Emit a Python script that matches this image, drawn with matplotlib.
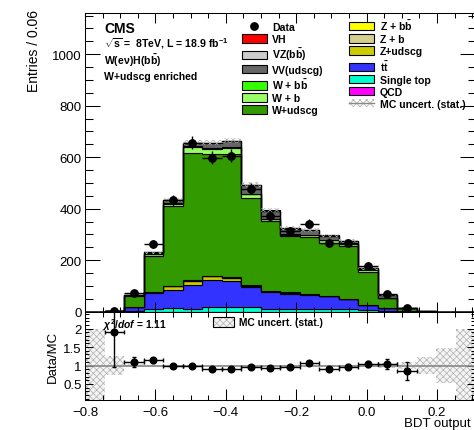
import matplotlib

matplotlib.use("Agg")
import matplotlib.pyplot as plt
import numpy as np
from matplotlib.lines import Line2D
from matplotlib.patches import Patch
from matplotlib.ticker import FormatStrFormatter, MultipleLocator

plt.rcParams["font.family"] = ["Liberation Sans", "DejaVu Sans"]
plt.rcParams["mathtext.fontset"] = "custom"
plt.rcParams["mathtext.rm"] = "Liberation Sans:bold"
plt.rcParams["mathtext.it"] = "Liberation Sans:italic:bold"
plt.rcParams["mathtext.bf"] = "Liberation Sans:bold"
plt.rcParams["hatch.linewidth"] = 0.5

# ---- binning (BDT output, 20 bins) ----
X_LO, X_HI, N_BINS = -0.8, 0.308, 20
edges = np.linspace(X_LO, X_HI, N_BINS + 1)
centers = 0.5 * (edges[:-1] + edges[1:])
half_w = 0.5 * (edges[1] - edges[0])

# ---- observed data ----
data = np.array([0, 4, 73, 262, 432, 656, 598, 606, 478, 370,
                 312, 342, 268, 266, 178, 67, 13, 0, 0, 0], dtype=float)

# ---- MC backgrounds / signal, stacked bottom -> top ----
qcd = np.array([0, 0, 0, 0, 0, 0, 0, 0, 0, 0, 0, 0, 0, 0, 0, 0, 0, 0, 0, 0], dtype=float)
single_top = np.array([0, 0.3, 1, 10, 13, 11, 19, 19, 19, 10, 10, 10, 10, 9, 6, 3, 1, 0, 0, 0])
ttbar = np.array([0, 0.5, 17, 63, 72, 93, 105, 99, 78, 65, 58, 55, 50, 40, 20, 10, 2, 0.5, 0.2, 0])
z_udscg = np.array([0, 0, 1, 2, 14, 15, 13, 12, 3, 4, 6, 2, 2, 1, 1, 0.5, 0, 0, 0, 0])
z_b = np.array([0, 0, 0.5, 1, 1.5, 2, 2, 2, 1.5, 1, 1, 1, 0.5, 0.5, 0.3, 0.1, 0, 0, 0, 0])
z_bb = np.array([0, 0, 0.2, 0.5, 0.8, 1, 1, 1, 0.8, 0.5, 0.5, 0.4, 0.3, 0.2, 0.1, 0, 0, 0, 0, 0])
w_udscg = np.array([0.2, 1.1, 41, 141, 309, 496, 471, 480, 338, 271,
                    218, 222, 205, 204, 128, 39, 10, 0.8, 0.3, 0.1])
w_b = np.array([0, 0, 3, 5, 9, 23, 21, 22, 15, 7, 5, 6, 10, 9, 8, 2, 0.5, 0, 0, 0])
w_bb = np.array([0, 0, 0.5, 1, 2, 3, 3, 3, 2, 2, 1.5, 1.5, 1, 1, 1, 0.3, 0, 0, 0, 0])
vv_udscg = np.array([0, 0.2, 2, 6, 11, 10, 19, 23, 34, 31, 23, 18, 16, 8, 4, 9, 1.5, 0, 0, 0])
vz_bb = np.array([0, 0, 0.2, 0.5, 0.8, 1.5, 1.5, 1.5, 1.5, 1.5, 1, 1, 1, 0.8, 0.6, 0.3, 0.1, 0, 0, 0])
vh = np.array([0, 0, 0.1, 0.2, 0.4, 0.6, 0.7, 0.8, 0.8, 0.7, 0.6, 0.5, 0.5, 0.4, 0.4, 0.2, 0.1, 0, 0, 0])

# relative MC statistical uncertainty per bin
mc_stat_rel = np.array([1.0, 0.27, 0.04, 0.025, 0.018, 0.015, 0.015, 0.015, 0.018, 0.02,
                        0.022, 0.022, 0.024, 0.026, 0.035, 0.07, 0.1, 0.23, 0.48, 1.0])

C_VH, C_VZ, C_VV = "#ff0000", "#cccccc", "#666666"
C_WBB, C_WB, C_WUDSCG = "#33ff00", "#99ff66", "#339900"
C_ZBB, C_ZB, C_ZUDSCG = "#ffff00", "#d6ce8c", "#cccc00"
C_TT, C_STOP, C_QCD = "#3333ff", "#00ffcc", "#ff00ff"
HATCH_C = "#b0b0b0"

STACK = [
    ("QCD", C_QCD, qcd),
    ("Single top", C_STOP, single_top),
    (r"t$\bar{\rm t}$", C_TT, ttbar),
    ("Z+udscg", C_ZUDSCG, z_udscg),
    ("Z + b", C_ZB, z_b),
    (r"Z + b$\bar{\rm b}$", C_ZBB, z_bb),
    ("W+udscg", C_WUDSCG, w_udscg),
    ("W + b", C_WB, w_b),
    (r"W + b$\bar{\rm b}$", C_WBB, w_bb),
    ("VV(udscg)", C_VV, vv_udscg),
    (r"VZ(b$\bar{\rm b}$)", C_VZ, vz_bb),
    ("VH", C_VH, vh),
]

W_PX, H_PX = 474, 431
fig = plt.figure(figsize=(W_PX / 100, H_PX / 100), dpi=100)
ax = fig.add_axes([85 / W_PX, 1 - 312.7 / H_PX, 390 / W_PX, 298.7 / H_PX])
rax = fig.add_axes([85 / W_PX, 1 - 401 / H_PX, 390 / W_PX, 88.3 / H_PX], sharex=ax)

# ---- main panel ----
bottom = np.zeros(N_BINS)
handles = {}
for name, color, vals in STACK:
    top = bottom + vals
    ax.stairs(top, edges, baseline=bottom, fill=True, facecolor=color,
              edgecolor="black", linewidth=0.8)
    handles[name] = Patch(facecolor=color, edgecolor="black", linewidth=0.8)
    bottom = top
mc_total = bottom

ax.stairs(mc_total * (1 + mc_stat_rel), edges, baseline=mc_total * (1 - mc_stat_rel),
          fill=True, facecolor="none", edgecolor=HATCH_C, hatch="xxxxx", linewidth=0)

has = data > 0
ax.errorbar(centers[has], data[has], xerr=half_w, yerr=np.sqrt(data[has]), fmt="o",
            color="black", ms=5.3, elinewidth=1.0, capsize=0, zorder=5)

ax.set_xlim(X_LO, X_HI)
ax.set_ylim(0, 1160)
ax.yaxis.set_major_locator(MultipleLocator(200))
ax.yaxis.set_minor_locator(MultipleLocator(50))
ax.xaxis.set_major_locator(MultipleLocator(0.2))
ax.xaxis.set_minor_locator(MultipleLocator(0.05))
ax.tick_params(which="both", direction="in", top=True, right=True, width=0.75,
               labelbottom=False, labelsize=9.5, pad=2.5)
ax.tick_params(axis="y", which="major", length=10.8)
ax.tick_params(axis="y", which="minor", length=5.4)
ax.tick_params(axis="x", which="major", length=7.2)
ax.tick_params(axis="x", which="minor", length=3.6)
ax.set_ylabel("Entries / 0.06", loc="top", fontsize=10)
ax.yaxis.set_label_coords(-0.113, 1.013)

ax.text(0.049, 0.935, "CMS", transform=ax.transAxes, fontsize=10, fontweight="bold",
        va="baseline")
ax.text(0.049, 0.889, r"$\sqrt{\rm s}$ =  8TeV, L = 18.9 fb$^{-1}$", transform=ax.transAxes,
        fontsize=7.6, fontweight="bold", va="baseline")
ax.text(0.049, 0.828, r"W(eν)H(b$\bar{\rm b}$)", transform=ax.transAxes,
        fontsize=7.6, fontweight="bold", va="baseline")
ax.text(0.049, 0.779, "W+udscg enriched", transform=ax.transAxes,
        fontsize=7.6, fontweight="bold", va="baseline")

data_h = Line2D([], [], marker="o", color="black", ls="none", ms=5.3)
unc_h = (Patch(facecolor="white", edgecolor=HATCH_C, hatch="xxxxx", linewidth=0),
         Line2D([], [], color="#888888", lw=1.0))
order = ["VH", r"VZ(b$\bar{\rm b}$)", "VV(udscg)", r"W + b$\bar{\rm b}$", "W + b", "W+udscg",
         r"Z + b$\bar{\rm b}$", "Z + b", "Z+udscg", r"t$\bar{\rm t}$", "Single top", "QCD"]
leg_h = [data_h] + [handles[k] for k in order] + [unc_h]
leg_l = ["Data"] + order + ["MC uncert. (stat.)"]
fig.legend(leg_h, leg_l, ncol=2, loc="upper left", bbox_to_anchor=(241.7 / W_PX, 1 - 18.5 / H_PX),
           frameon=False, borderpad=0, borderaxespad=0, handlelength=2.4, handleheight=0.85,
           handletextpad=0.5, labelspacing=0.2, columnspacing=2.4,
           prop={"weight": "bold", "size": 7.6})

# ---- ratio panel ----
ratio = np.where(has, data / mc_total, np.nan)
ratio_err = np.where(has, np.sqrt(data) / mc_total, np.nan)
rax.stairs(1 + mc_stat_rel, edges, baseline=1 - mc_stat_rel, fill=True, facecolor="#f4f4f4",
           edgecolor=HATCH_C, hatch="xxxxx", linewidth=0)
rax.axhline(1.0, color="#888888", lw=1.2)
rax.errorbar(centers[has], ratio[has], xerr=half_w, yerr=ratio_err[has], fmt="o",
             color="black", ms=4.8, elinewidth=1.0, capsize=1.5, capthick=1.0, zorder=5)
rax.set_ylim(0.065, 2.46)
rax.yaxis.set_major_locator(MultipleLocator(0.5))
rax.yaxis.set_minor_locator(MultipleLocator(0.1))
rax.yaxis.set_major_formatter(FormatStrFormatter("%g"))
rax.tick_params(which="both", direction="in", top=True, right=True, width=0.75,
                labelsize=9.5, pad=2.5)
rax.tick_params(axis="x", which="major", length=8, pad=4)
rax.tick_params(axis="x", which="minor", length=3.6)
rax.tick_params(axis="y", which="major", length=6)
rax.tick_params(axis="y", which="minor", length=3)
rax.set_ylabel("Data/MC", fontsize=9.5)
rax.yaxis.set_label_coords(-0.067, 0.5)
rax.set_xlabel("BDT output", loc="right", fontsize=9.5)
rax.xaxis.set_label_coords(0.99, -0.19)

rax.text(0.047, 0.86, r"$\chi^{2}$/$dof$ = 1.11", transform=rax.transAxes, fontsize=7.4,
         fontweight="bold", va="center", zorder=1)
box_h = (Patch(facecolor="#f4f4f4", edgecolor=HATCH_C, hatch="xxxxx", linewidth=0),
         Patch(facecolor="none", edgecolor="black", linewidth=0.8))
rax.legend([box_h], ["MC uncert. (stat.)"], loc="upper left", bbox_to_anchor=(0.327, 0.945),
           frameon=False, borderpad=0, borderaxespad=0, handlelength=2.1, handleheight=1.2,
           handletextpad=0.5, prop={"weight": "bold", "size": 7.4})

for a in (ax, rax):
    for s in a.spines.values():
        s.set_linewidth(0.75)

fig.savefig("out.png", dpi=100)
